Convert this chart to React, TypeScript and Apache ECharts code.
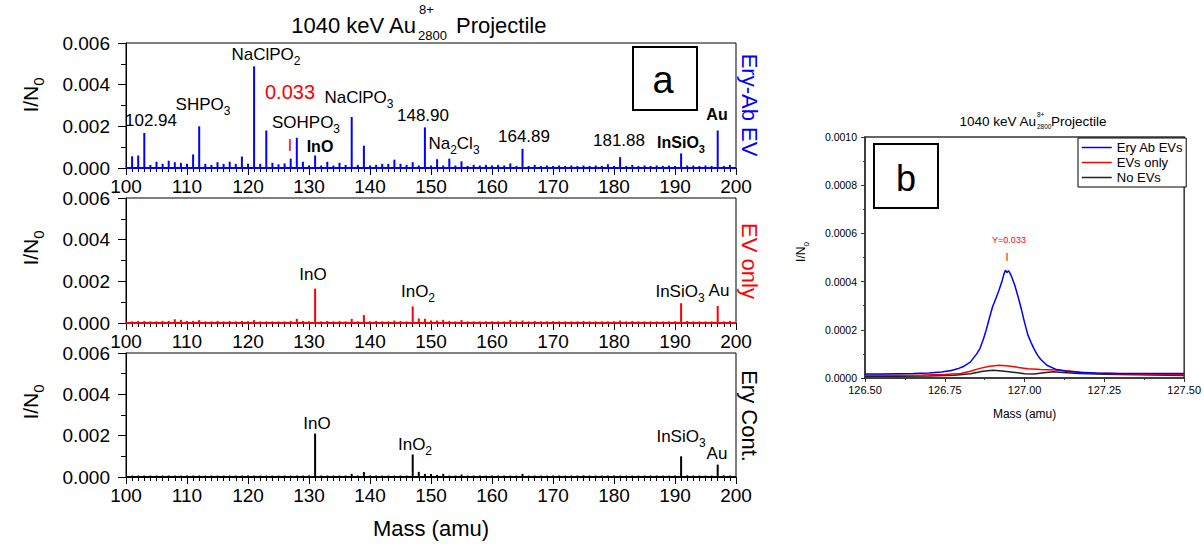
import React, { useEffect, useRef } from "react";
import * as echarts from "echarts";

const FONT = '"Liberation Sans", Arial, Helvetica, sans-serif';

// ---------- Panel a : mass spectra (integer masses 101..199) ----------
const massA: number[] = Array.from({ length: 99 }, (_, i) => 101 + i);

const eryAbEV: number[] = [
  0.00056, 0.0006, 0.00168, 0.00015, 0.0003, 0.0002, 0.00035, 0.00028, 0.00025, 0.0002,
  0.00065, 0.002, 0.0002, 0.00015, 0.00028, 0.0002, 0.0003, 0.0002, 0.00055, 0.0002,
  0.00488, 0.0002, 0.0018, 0.00025, 0.00018, 0.00022, 0.00045, 0.00145, 0.0003, 0.00012,
  0.0006, 0.00012, 0.0003, 0.00012, 0.00025, 0.00015, 0.00245, 0.00015, 0.00107, 0.00012,
  0.00015, 0.0002, 0.0002, 0.0004, 0.0002, 0.00015, 0.00028, 0.00012, 0.00195, 0.00012,
  0.00042, 0.00012, 0.00045, 0.00012, 0.00032, 0.0001, 0.00015, 0.00012, 0.00015, 0.00012,
  0.00015, 0.00012, 0.00022, 0.0001, 0.00092, 0.0001, 0.00015, 0.0001, 0.00012, 0.0001,
  0.00012, 0.0001, 0.00012, 0.0001, 0.00012, 0.0001, 0.00012, 0.0001, 0.00018, 0.0001,
  0.00052, 0.0001, 0.00015, 0.0001, 0.00012, 0.0001, 0.00012, 0.0001, 0.00012, 0.0001,
  0.0007, 0.00012, 0.00012, 0.0001, 0.00012, 0.0001, 0.0018, 0.0001, 0.00015,
];

const evOnly: number[] = [
  0.00008, 0.0001, 0.0001, 0.00008, 0.00008, 0.0001, 0.0001, 0.00018, 0.00015, 0.0001,
  0.0001, 0.00014, 0.00008, 0.00008, 0.0001, 0.00008, 0.0001, 0.00008, 0.0001, 0.00008,
  0.00014, 0.00008, 0.00008, 0.00008, 0.00008, 0.00008, 0.0001, 0.0002, 0.0001, 0.00008,
  0.00165, 0.00008, 0.0001, 0.00008, 0.0001, 0.00008, 0.0002, 0.00008, 0.00038, 0.00008,
  0.0001, 0.00008, 0.00008, 0.00012, 0.0001, 0.00008, 0.0008, 0.00022, 0.0002, 0.00012,
  0.00012, 0.00015, 0.0001, 0.00008, 0.00014, 0.00008, 0.00008, 0.00008, 0.00008, 0.00008,
  0.00008, 0.00008, 0.00014, 0.00008, 0.00012, 0.00008, 0.0001, 0.00008, 0.00008, 0.00008,
  0.00008, 0.00008, 0.00008, 0.00008, 0.0001, 0.00008, 0.00008, 0.00008, 0.00008, 0.00008,
  0.00012, 0.00008, 0.0001, 0.00008, 0.00008, 0.00008, 0.00008, 0.00008, 0.00008, 0.00008,
  0.00095, 0.0001, 0.00008, 0.00008, 0.00008, 0.00008, 0.00082, 0.00008, 0.0001,
];

const eryCont: number[] = [
  0.00007, 0.00007, 0.00007, 0.00007, 0.00007, 0.00007, 0.00007, 0.00007, 0.00007, 0.00007,
  0.00007, 0.00007, 0.00007, 0.00007, 0.00007, 0.00007, 0.00007, 0.00007, 0.00007, 0.00007,
  0.00007, 0.00007, 0.00007, 0.00007, 0.00007, 0.00007, 0.00007, 0.00007, 0.00007, 0.00007,
  0.0021, 0.00007, 0.00007, 0.00007, 0.00007, 0.00007, 0.00015, 0.00007, 0.00024, 0.00007,
  0.00007, 0.00007, 0.00007, 0.00007, 0.00007, 0.00007, 0.00109, 0.00025, 0.00015, 0.00015,
  0.0001, 0.00015, 0.00007, 0.00007, 0.00012, 0.00007, 0.00007, 0.00007, 0.00007, 0.00007,
  0.00007, 0.00007, 0.00007, 0.00007, 0.00015, 0.00007, 0.00007, 0.00007, 0.00007, 0.00007,
  0.00007, 0.00007, 0.00007, 0.00007, 0.00008, 0.00007, 0.00007, 0.00007, 0.00007, 0.00007,
  0.00007, 0.00007, 0.00007, 0.00007, 0.00007, 0.00007, 0.00007, 0.00007, 0.00007, 0.00007,
  0.001, 0.00008, 0.00007, 0.00007, 0.00007, 0.00007, 0.0006, 0.00008, 0.00007,
];

// ---------- Panel b : zoom on mass 126.94 ----------
const blueMass = [
  126.5, 126.55, 126.6, 126.65, 126.7, 126.74, 126.77, 126.79, 126.81, 126.83, 126.85, 126.86,
  126.87, 126.88, 126.89, 126.9, 126.91, 126.92, 126.93, 126.935, 126.94, 126.945, 126.95,
  126.955, 126.96, 126.97, 126.98, 126.99, 127.0, 127.01, 127.02, 127.03, 127.04, 127.05,
  127.07, 127.1, 127.13, 127.17, 127.22, 127.3, 127.4, 127.5,
];
const blueVal = [
  1.65e-5, 1.7e-5, 1.8e-5, 1.9e-5, 2.1e-5, 2.5e-5, 3.1e-5, 3.8e-5, 4.9e-5, 6.6e-5, 1.0e-4, 1.22e-4,
  1.58e-4, 2.0e-4, 2.5e-4, 2.97e-4, 3.3e-4, 3.65e-4, 4.05e-4, 4.3e-4, 4.47e-4, 4.38e-4, 4.45e-4,
  4.33e-4, 4.18e-4, 3.82e-4, 3.35e-4, 2.85e-4, 2.3e-4, 1.8e-4, 1.48e-4, 1.2e-4, 9.6e-5, 7.8e-5,
  5.3e-5, 3.5e-5, 2.8e-5, 2.4e-5, 2.1e-5, 1.9e-5, 1.85e-5, 1.85e-5,
];
const redMass = [
  126.5, 126.6, 126.68, 126.75, 126.8, 126.83, 126.86, 126.89, 126.92, 126.95, 126.98, 127.01,
  127.05, 127.1, 127.14, 127.18, 127.23, 127.3, 127.4, 127.5,
];
const redVal = [
  1.1e-5, 1.1e-5, 1.2e-5, 1.5e-5, 1.9e-5, 2.8e-5, 4.0e-5, 4.9e-5, 5.3e-5, 5.0e-5, 4.4e-5, 3.8e-5,
  3.5e-5, 3.3e-5, 2.9e-5, 2.3e-5, 2.0e-5, 1.8e-5, 1.6e-5, 1.4e-5,
];
const blackMass = [
  126.5, 126.6, 126.7, 126.78, 126.83, 126.87, 126.9, 126.93, 126.97, 127.0, 127.03, 127.06,
  127.09, 127.12, 127.17, 127.25, 127.35, 127.5,
];
const blackVal = [
  7e-6, 7e-6, 8e-6, 1.1e-5, 1.8e-5, 2.8e-5, 3.2e-5, 2.9e-5, 2.3e-5, 1.8e-5, 1.7e-5, 2.2e-5,
  2.6e-5, 2.3e-5, 1.9e-5, 1.6e-5, 1.3e-5, 1.0e-5,
];

const legendNames = ["Ery Ab EVs", "EVs only", "No EVs"];

// ---------- helpers ----------
function txt(
  x: number,
  y: number,
  main: string,
  size: number,
  o: { sub?: string; color?: string; weight?: string; rotation?: number; rich?: string } = {}
) {
  const color = o.color || "#000";
  const weight = o.weight || "normal";
  const L = Math.round(size * 1.5);
  const fs = Math.round(size * 0.7);
  const pad = Math.max(0, Math.round(L / 2 + size * 0.4 - fs / 2));
  let text = main;
  let rich: any = undefined;
  if (o.sub !== undefined || o.rich !== undefined) {
    text = o.rich !== undefined ? o.rich : `{m|${main}}{s|${o.sub}}`;
    rich = {
      m: { fontSize: size, fontWeight: weight, fontFamily: FONT, fill: color, lineHeight: L },
      s: { fontSize: fs, fontWeight: weight, fontFamily: FONT, fill: color, lineHeight: fs, padding: [pad, 0, 0, 0] },
    };
  }
  return {
    type: "text",
    x,
    y,
    rotation: o.rotation || 0,
    z: 20,
    silent: true,
    style: {
      text,
      rich,
      fill: color,
      fontSize: size,
      fontWeight: weight,
      fontFamily: FONT,
      align: "center",
      verticalAlign: "middle",
    },
  };
}

function plain(x: number, y: number, text: string, size: number, align: string, color = "#000") {
  return {
    type: "text",
    x,
    y,
    z: 20,
    silent: true,
    style: { text, fill: color, fontSize: size, fontFamily: FONT, align, verticalAlign: "middle" },
  };
}

const gridsA = [
  { left: 126, top: 43, width: 610, height: 125 },
  { left: 126, top: 198, width: 610, height: 125 },
  { left: 126, top: 353, width: 610, height: 124 },
];

function xAxisA(i: number) {
  return {
    type: "value",
    gridIndex: i,
    min: 100,
    max: 200,
    interval: 10,
    axisLine: { show: true, onZero: false, lineStyle: { color: "#000", width: 1 } },
    axisTick: { show: true, inside: false, length: 7, lineStyle: { color: "#000", width: 1 } },
    minorTick: { show: true, splitNumber: 10, length: 4, lineStyle: { color: "#000", width: 1 } },
    splitLine: { show: false },
    minorSplitLine: { show: false },
    axisLabel: { fontSize: 19, color: "#000", margin: 9, fontFamily: FONT, showMinLabel: true, showMaxLabel: true },
    ...(i === 2
      ? {
          name: "Mass (amu)",
          nameLocation: "middle",
          nameGap: 40,
          nameTextStyle: { fontSize: 22, color: "#000", fontFamily: FONT },
        }
      : {}),
  };
}

function yAxisA(i: number) {
  return {
    type: "value",
    gridIndex: i,
    min: 0,
    max: 0.006,
    interval: 0.002,
    axisLine: { show: true, lineStyle: { color: "#000", width: 1 } },
    axisTick: { show: true, inside: false, length: 8, lineStyle: { color: "#000", width: 1 } },
    minorTick: { show: true, splitNumber: 2, length: 5, lineStyle: { color: "#000", width: 1 } },
    splitLine: { show: false },
    minorSplitLine: { show: false },
    axisLabel: {
      fontSize: 19,
      color: "#000",
      margin: 16,
      fontFamily: FONT,
      formatter: (v: number) => v.toFixed(3),
      showMinLabel: true,
      showMaxLabel: true,
    },
  };
}

function barSeries(i: number, vals: number[], color: string, name: string) {
  return {
    type: "bar",
    name,
    xAxisIndex: i,
    yAxisIndex: i,
    data: massA.map((m, k) => [m, vals[k]]),
    barWidth: 2,
    itemStyle: { color },
    silent: true,
    markLine: {
      symbol: "none",
      silent: true,
      label: { show: false },
      lineStyle: { color, width: 2, type: "solid" },
      data: [{ yAxis: 0 }],
    },
  };
}

function lineSeries(name: string, xs: number[], ys: number[], color: string) {
  return {
    type: "line",
    name,
    xAxisIndex: 3,
    yAxisIndex: 3,
    data: xs.map((x, k) => [x, ys[k]]),
    symbol: "none",
    showSymbol: false,
    lineStyle: { color, width: 1.5 },
    itemStyle: { color },
    silent: true,
  };
}

export default function App() {
  const ref = useRef<HTMLDivElement>(null);
  useEffect(() => {
    document.body.style.margin = "0";
    if (!ref.current) return;
    const chart = echarts.init(ref.current, undefined, { renderer: "svg" });

    const graphic: any[] = [
      // Panel a title
      plain(416, 25, "1040 keV Au", 22, "right"),
      plain(419, 9, "8+", 13, "left"),
      plain(418, 35, "2800", 13, "left"),
      plain(456, 25, "Projectile", 22, "left"),
      // y-axis names
      txt(30, 95, "I/N", 21, { sub: "0", rotation: Math.PI / 2 }),
      txt(30, 248, "I/N", 21, { sub: "0", rotation: Math.PI / 2 }),
      txt(30, 402, "I/N", 21, { sub: "0", rotation: Math.PI / 2 }),
      // right-side panel names
      txt(749, 105, "Ery-Ab EV", 22, { color: "#0000ff", rotation: -Math.PI / 2 }),
      txt(749, 261, "EV only", 22, { color: "#ff0000", rotation: -Math.PI / 2 }),
      txt(749, 416, "Ery Cont.", 22, { rotation: -Math.PI / 2 }),
      // top panel annotations
      txt(151, 120, "102.94", 17),
      txt(203, 104, "SHPO", 17, { sub: "3" }),
      txt(266, 54, "NaClPO", 17, { sub: "2" }),
      txt(290, 92, "0.033", 20, { color: "#ff0000" }),
      txt(359, 97, "NaClPO", 17, { sub: "3" }),
      txt(306, 122, "SOHPO", 17, { sub: "3" }),
      txt(290, 145, "I", 16, { color: "#ff0000" }),
      txt(320, 146, "InO", 16, { weight: "bold" }),
      txt(423, 115, "148.90", 17),
      txt(454, 143, "", 17, { rich: "{m|Na}{s|2}{m|Cl}{s|3}" }),
      txt(524, 136, "164.89", 17),
      txt(619, 140, "181.88", 17),
      txt(681, 142, "InSiO", 16, { sub: "3", weight: "bold" }),
      txt(717, 114, "Au", 16, { weight: "bold" }),
      // middle panel annotations
      txt(313, 274, "InO", 17),
      txt(418, 291, "InO", 17, { sub: "2" }),
      txt(680, 291, "InSiO", 17, { sub: "3" }),
      txt(719, 290, "Au", 17),
      // bottom panel annotations
      txt(317, 423, "InO", 17),
      txt(415, 444, "InO", 17, { sub: "2" }),
      txt(681, 436, "InSiO", 17, { sub: "3" }),
      txt(717, 453, "Au", 17),
      // box a
      {
        type: "rect",
        z: 19,
        silent: true,
        shape: { x: 633, y: 47, width: 64, height: 63 },
        style: { fill: "#fff", stroke: "#000", lineWidth: 2 },
      },
      txt(663, 80, "a", 38),
      // Panel b title
      plain(1036, 121, "1040 keV Au", 13.5, "right"),
      plain(1037, 114, "8+", 6.5, "left"),
      plain(1037, 126, "2800", 6.5, "left"),
      plain(1051, 121, "Projectile", 13.5, "left"),
      txt(801, 252, "I/N", 12, { sub: "0", rotation: Math.PI / 2 }),
      {
        type: "rect",
        z: 19,
        silent: true,
        shape: { x: 874, y: 144, width: 64, height: 64 },
        style: { fill: "#fff", stroke: "#000", lineWidth: 2 },
      },
      txt(906, 178, "b", 36),
      txt(1009, 240, "Y=0.033", 9, { color: "#ff0000" }),
      txt(1007, 257, "I", 11, { color: "#ff0000" }),
    ];

    const option: any = {
      animation: false,
      backgroundColor: "#fff",
      textStyle: { fontFamily: FONT },
      grid: [
        ...gridsA.map((g) => ({ ...g, show: true, borderColor: "#000", borderWidth: 1, containLabel: false })),
        { left: 865, top: 137, width: 320, height: 241, show: true, borderColor: "#333", borderWidth: 1.5 },
      ],
      xAxis: [
        xAxisA(0),
        xAxisA(1),
        xAxisA(2),
        {
          type: "value",
          gridIndex: 3,
          min: 126.5,
          max: 127.5,
          interval: 0.25,
          axisLine: { show: true, onZero: false, lineStyle: { color: "#333", width: 1.5 } },
          axisTick: { show: true, inside: false, length: 4, lineStyle: { color: "#333" } },
          minorTick: { show: true, splitNumber: 2, length: 2, lineStyle: { color: "#333" } },
          splitLine: { show: false },
          axisLabel: {
            fontSize: 11,
            color: "#000",
            margin: 6,
            fontFamily: FONT,
            formatter: (v: number) => v.toFixed(2),
            showMinLabel: true,
            showMaxLabel: true,
          },
          name: "Mass (amu)",
          nameLocation: "middle",
          nameGap: 30,
          nameTextStyle: { fontSize: 12, color: "#000", fontFamily: FONT },
        },
      ],
      yAxis: [
        yAxisA(0),
        yAxisA(1),
        yAxisA(2),
        {
          type: "value",
          gridIndex: 3,
          min: 0,
          max: 0.001,
          interval: 0.0002,
          axisLine: { show: true, lineStyle: { color: "#333", width: 1.5 } },
          axisTick: { show: true, inside: false, length: 4, lineStyle: { color: "#333" } },
          minorTick: { show: true, splitNumber: 2, length: 2, lineStyle: { color: "#333" } },
          splitLine: { show: false },
          axisLabel: {
            fontSize: 10.5,
            color: "#000",
            margin: 8,
            fontFamily: FONT,
            formatter: (v: number) => v.toFixed(4),
            showMinLabel: true,
            showMaxLabel: true,
          },
        },
      ],
      legend: {
        data: legendNames,
        orient: "vertical",
        left: 1078,
        top: 138,
        itemWidth: 30,
        itemHeight: 12,
        itemGap: 2,
        padding: [3, 3, 3, 3],
        borderColor: "#000",
        borderWidth: 1,
        backgroundColor: "#fff",
        selectedMode: false,
        itemStyle: { opacity: 0 },
        lineStyle: { width: 1.5 },
        textStyle: { fontSize: 13, color: "#000", fontFamily: FONT },
      },
      series: [
        barSeries(0, eryAbEV, "#0000ff", "Ery-Ab EV"),
        barSeries(1, evOnly, "#ff0000", "EV only"),
        barSeries(2, eryCont, "#000000", "Ery Cont."),
        lineSeries(legendNames[2], blackMass, blackVal, "#222222"),
        lineSeries(legendNames[1], redMass, redVal, "#ff0000"),
        lineSeries(legendNames[0], blueMass, blueVal, "#0000ff"),
      ],
      graphic,
    };
    chart.setOption(option);
    return () => chart.dispose();
  }, []);
  return <div ref={ref} style={{ width: 1204, height: 544 }} />;
}
